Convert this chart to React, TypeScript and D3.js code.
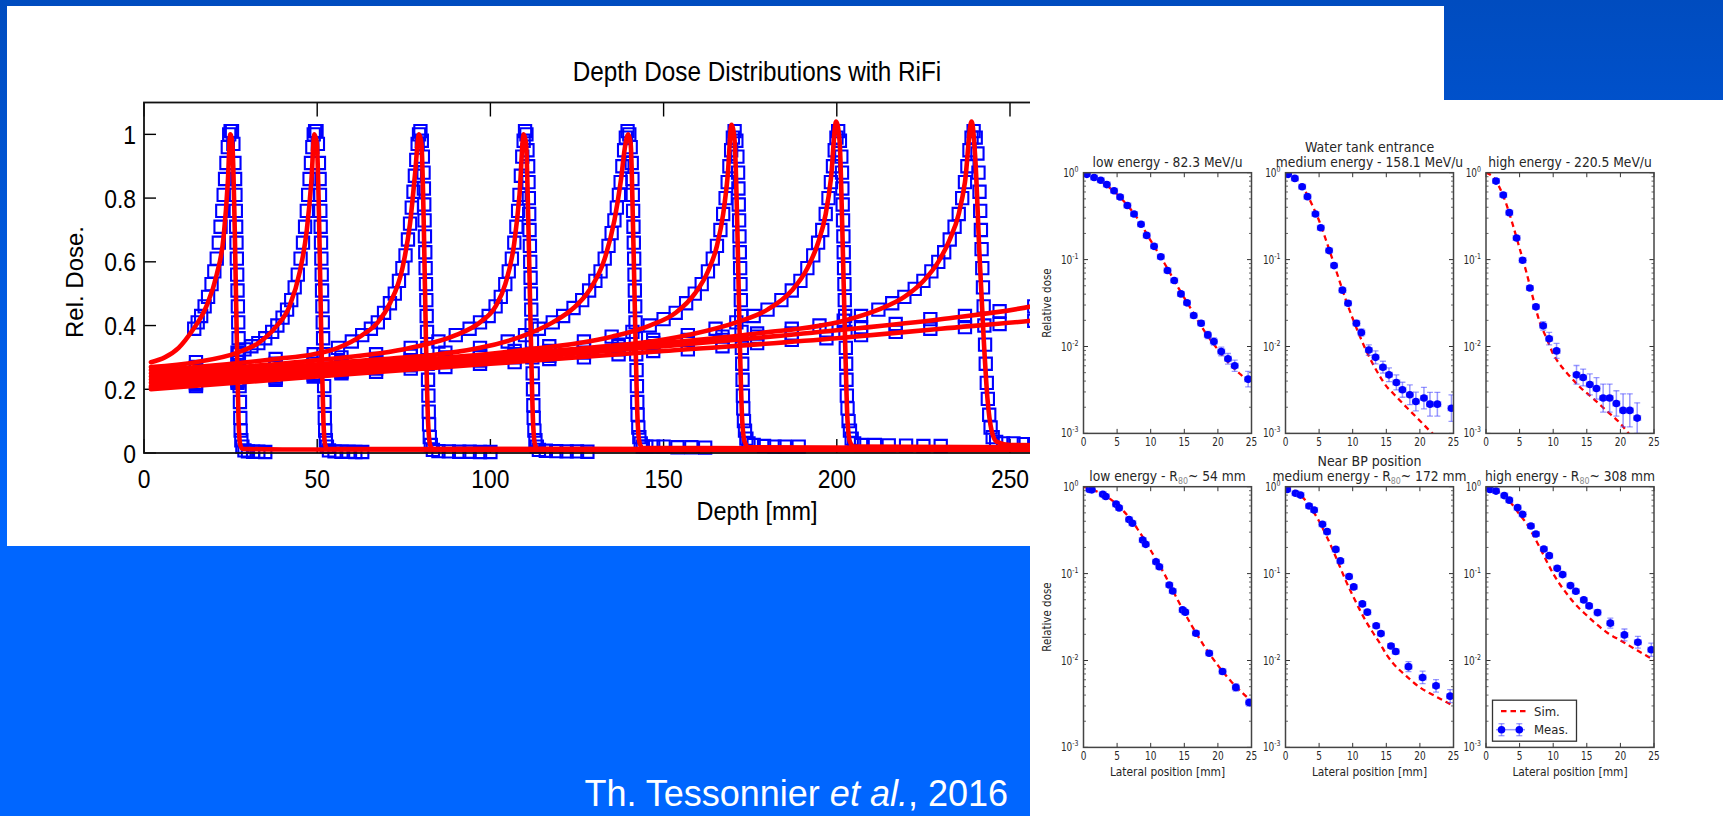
import React from "react";
import * as d3 from "d3";

type P = [number, number];
type M = [number, number, number];

const W = 1723;
const H = 816;

// ================= Left chart: depth dose distributions =================
const DEPTH_TICKS = [0, 50, 100, 150, 200, 250, 300];
const DOSE_TICKS = [0, 0.2, 0.4, 0.6, 0.8, 1];
const DOSE_TICK_LABELS = ["0", "0.2", "0.4", "0.6", "0.8", "1"];

const MEAS_E1: P[] = [[14.5,0.39],[15.5,0.41],[16.5,0.43],[17.5,0.46],[18.5,0.49],[19.5,0.53],[20.3,0.57],[21,0.61],[21.6,0.66],[22.1,0.71],[22.6,0.76],[23,0.81],[23.4,0.86],[23.8,0.91],[24.2,0.96],[24.6,1.0],[25,1.01],[25.4,1.01],[25.8,0.97],[26.1,0.91],[26.3,0.86],[26.4,0.81],[26.5,0.76],[26.6,0.71],[26.7,0.66],[26.8,0.61],[26.9,0.56],[27,0.51],[27.1,0.46],[27.2,0.41],[27.3,0.36],[27.4,0.31],[27.5,0.26],[27.6,0.21],[27.7,0.16],[27.8,0.11],[27.9,0.07],[28.1,0.04],[28.4,0.02],[29,0.008],[30,0.005],[31.5,0.004],[33,0.004],[35,0.003]];
const MEAS_E2: P[] = [[15,0.285],[27,0.315],[29,0.325],[31,0.335],[33,0.345],[35,0.36],[37,0.38],[38.5,0.4],[40,0.425],[41.3,0.45],[42.5,0.48],[43.5,0.52],[44.4,0.56],[45.2,0.61],[45.9,0.66],[46.5,0.71],[47,0.76],[47.4,0.81],[47.8,0.86],[48.2,0.91],[48.6,0.96],[49,1.0],[49.4,1.01],[49.8,1.01],[50.2,0.97],[50.5,0.91],[50.7,0.86],[50.8,0.81],[50.9,0.76],[51,0.71],[51.1,0.66],[51.2,0.61],[51.3,0.56],[51.4,0.51],[51.5,0.46],[51.6,0.41],[51.7,0.36],[51.8,0.31],[51.9,0.26],[52,0.21],[52.1,0.16],[52.2,0.11],[52.3,0.07],[52.5,0.04],[52.8,0.02],[53.4,0.008],[55,0.005],[57,0.004],[59,0.004],[61,0.003],[63,0.003]];
const MEAS_E3: P[] = [[15,0.27],[27,0.285],[38,0.295],[49,0.31],[56,0.33],[60,0.35],[63,0.37],[65.5,0.39],[67.5,0.41],[69.3,0.44],[71,0.47],[72.4,0.5],[73.6,0.54],[74.6,0.58],[75.5,0.62],[76.2,0.67],[76.8,0.72],[77.3,0.77],[77.8,0.82],[78.2,0.87],[78.6,0.92],[79,0.97],[79.4,1.0],[79.8,1.01],[80.2,0.98],[80.5,0.93],[80.7,0.88],[80.8,0.83],[80.9,0.78],[81,0.73],[81.1,0.68],[81.2,0.63],[81.3,0.58],[81.4,0.53],[81.5,0.48],[81.6,0.43],[81.7,0.38],[81.8,0.33],[81.9,0.28],[82,0.23],[82.1,0.18],[82.2,0.13],[82.3,0.09],[82.5,0.05],[82.8,0.025],[83.4,0.01],[85,0.006],[88,0.005],[91,0.004],[94,0.004],[97,0.003],[100,0.003]];
const MEAS_E4: P[] = [[15,0.26],[27,0.27],[38,0.28],[49,0.29],[57,0.3],[67,0.31],[77,0.33],[85,0.35],[90,0.37],[94,0.39],[97,0.41],[99.5,0.43],[101.5,0.46],[103,0.49],[104.3,0.53],[105.3,0.57],[106.2,0.61],[106.9,0.66],[107.5,0.71],[108,0.76],[108.4,0.81],[108.8,0.87],[109.2,0.93],[109.6,0.98],[110,1.01],[110.4,1.0],[110.7,0.95],[110.9,0.9],[111,0.85],[111.1,0.8],[111.2,0.75],[111.3,0.7],[111.4,0.65],[111.5,0.6],[111.6,0.55],[111.7,0.5],[111.8,0.45],[111.9,0.4],[112,0.35],[112.1,0.3],[112.2,0.25],[112.3,0.2],[112.4,0.15],[112.5,0.11],[112.7,0.07],[113,0.04],[113.4,0.02],[114,0.01],[116,0.007],[119,0.006],[122,0.005],[125,0.005],[128,0.004]];
const MEAS_E5: P[] = [[15,0.25],[27,0.26],[38,0.27],[49,0.28],[57,0.285],[67,0.295],[77,0.305],[87,0.315],[97,0.33],[105,0.35],[110,0.37],[114,0.39],[118,0.41],[121,0.43],[124,0.455],[126.5,0.48],[128.5,0.51],[130.3,0.54],[131.8,0.57],[133,0.61],[134.1,0.65],[135,0.69],[135.8,0.73],[136.5,0.77],[137.1,0.81],[137.6,0.85],[138.1,0.9],[138.6,0.95],[139.1,0.99],[139.6,1.01],[140.1,1.0],[140.5,0.96],[140.8,0.91],[141,0.86],[141.1,0.81],[141.2,0.76],[141.3,0.71],[141.4,0.66],[141.5,0.61],[141.6,0.56],[141.7,0.51],[141.8,0.46],[141.9,0.41],[142,0.36],[142.1,0.31],[142.2,0.26],[142.3,0.21],[142.4,0.16],[142.5,0.12],[142.7,0.08],[143,0.05],[143.4,0.03],[144,0.02],[145,0.02],[147,0.02],[150,0.02],[154,0.018],[158,0.018],[162,0.017]];
const MEAS_E6: P[] = [[15,0.24],[27,0.25],[38,0.26],[49,0.27],[57,0.275],[67,0.285],[77,0.29],[87,0.3],[97,0.31],[107,0.32],[117,0.335],[127,0.35],[135,0.365],[141,0.38],[146,0.4],[150,0.42],[153.5,0.44],[156.5,0.47],[159,0.5],[161,0.53],[162.8,0.57],[164.2,0.61],[165.4,0.65],[166.4,0.7],[167.2,0.75],[167.9,0.8],[168.5,0.85],[169,0.9],[169.5,0.95],[170,0.99],[170.5,1.01],[171,0.98],[171.3,0.93],[171.5,0.88],[171.6,0.83],[171.7,0.78],[171.8,0.73],[171.9,0.68],[172,0.63],[172.1,0.58],[172.2,0.53],[172.3,0.48],[172.4,0.43],[172.5,0.38],[172.6,0.33],[172.7,0.28],[172.8,0.23],[172.9,0.18],[173,0.14],[173.2,0.1],[173.5,0.07],[173.9,0.045],[174.5,0.03],[176,0.025],[179,0.022],[182,0.02],[185,0.02],[189,0.02]];
const MEAS_E7: P[] = [[15,0.23],[27,0.24],[38,0.25],[49,0.26],[57,0.27],[67,0.28],[77,0.285],[87,0.295],[97,0.305],[107,0.31],[117,0.32],[127,0.33],[137,0.34],[147,0.355],[157,0.37],[165,0.39],[171,0.41],[176,0.43],[180,0.45],[184,0.48],[187,0.51],[189.5,0.54],[191.5,0.58],[193.2,0.62],[194.6,0.66],[195.8,0.7],[196.8,0.75],[197.6,0.8],[198.3,0.85],[198.9,0.9],[199.4,0.95],[199.9,0.99],[200.4,1.01],[200.9,0.98],[201.3,0.93],[201.5,0.88],[201.6,0.83],[201.7,0.78],[201.8,0.73],[201.9,0.68],[202,0.63],[202.1,0.58],[202.2,0.53],[202.3,0.48],[202.4,0.43],[202.5,0.38],[202.6,0.33],[202.7,0.28],[202.8,0.23],[202.9,0.18],[203.1,0.14],[203.4,0.1],[203.8,0.07],[204.3,0.045],[205,0.03],[207,0.025],[211,0.025],[215,0.024],[220,0.023],[225,0.022],[230,0.022]];
const MEAS_E8: P[] = [[15,0.22],[27,0.23],[38,0.24],[49,0.25],[57,0.26],[67,0.27],[77,0.28],[87,0.29],[97,0.3],[107,0.305],[117,0.315],[127,0.325],[137,0.335],[147,0.345],[157,0.355],[167,0.365],[177,0.375],[187,0.39],[195,0.4],[202,0.415],[207,0.43],[212,0.45],[216,0.47],[219.5,0.49],[222.5,0.515],[225,0.54],[227.3,0.57],[229.3,0.6],[231,0.63],[232.6,0.67],[234,0.71],[235.2,0.75],[236.2,0.8],[237,0.85],[237.7,0.9],[238.3,0.95],[238.9,0.99],[239.5,1.01],[240.1,0.99],[240.6,0.94],[240.9,0.88],[241.2,0.82],[241.4,0.76],[241.6,0.7],[241.8,0.64],[242,0.58],[242.2,0.52],[242.4,0.46],[242.6,0.4],[242.8,0.34],[243,0.28],[243.3,0.22],[243.6,0.17],[244,0.12],[244.4,0.08],[245,0.05],[246,0.035],[248,0.03],[251,0.03],[254,0.028],[257,0.028]];
const MEAS_E9: P[] = [[15,0.215],[27,0.225],[38,0.235],[49,0.245],[57,0.255],[67,0.265],[77,0.275],[87,0.285],[97,0.29],[107,0.3],[117,0.305],[127,0.315],[137,0.325],[147,0.335],[157,0.345],[167,0.355],[177,0.365],[187,0.375],[197,0.385],[207,0.395],[217,0.405],[227,0.42],[237,0.43],[247,0.445],[257,0.46]];
const MEAS_E10: P[] = [[15,0.21],[27,0.22],[38,0.23],[49,0.24],[57,0.25],[67,0.255],[77,0.265],[87,0.27],[97,0.28],[107,0.285],[117,0.295],[127,0.3],[137,0.31],[147,0.32],[157,0.325],[167,0.335],[177,0.345],[187,0.355],[197,0.36],[207,0.37],[217,0.38],[227,0.39],[237,0.395],[247,0.405],[257,0.415]];

const SIM_E1: P[] = [[2,0.285],[6,0.3],[10,0.33],[14,0.385],[18,0.46],[21,0.56],[23,0.68],[24.2,0.85],[24.9,1.0],[25.5,0.97],[26.2,0.7],[26.8,0.35],[27.3,0.1],[27.8,0.025],[28.5,0.013],[40,0.011],[300,0.009]];
const SIM_E2: P[] = [[2,0.27],[15,0.285],[27,0.315],[33,0.345],[38,0.395],[42,0.46],[45,0.57],[47,0.7],[48.3,0.85],[49.2,1.0],[49.9,0.97],[50.6,0.7],[51.2,0.35],[51.8,0.1],[52.3,0.025],[53,0.013],[300,0.01]];
const SIM_E3: P[] = [[2,0.26],[15,0.27],[38,0.295],[49,0.31],[56,0.33],[63,0.37],[67.5,0.41],[71,0.47],[74.6,0.58],[76.8,0.72],[78.2,0.87],[79.4,1.0],[80.1,0.97],[80.8,0.7],[81.4,0.35],[82,0.1],[82.6,0.025],[83.3,0.013],[300,0.01]];
const SIM_E4: P[] = [[2,0.25],[15,0.26],[49,0.29],[77,0.33],[90,0.37],[97,0.41],[101.5,0.46],[104.3,0.53],[106.9,0.66],[108.4,0.81],[109.6,1.0],[110.3,0.97],[111,0.7],[111.7,0.35],[112.3,0.1],[112.9,0.025],[113.6,0.013],[300,0.01]];
const SIM_E5: P[] = [[2,0.24],[15,0.25],[57,0.285],[97,0.33],[110,0.37],[118,0.41],[124,0.455],[128.5,0.51],[133,0.61],[135.8,0.73],[137.6,0.85],[139,0.97],[139.8,1.0],[140.5,0.97],[141.2,0.7],[141.9,0.35],[142.5,0.1],[143.1,0.03],[144,0.016],[300,0.012]];
const SIM_E6: P[] = [[2,0.23],[15,0.24],[57,0.275],[107,0.32],[135,0.365],[146,0.4],[153.5,0.44],[159,0.5],[162.8,0.57],[165.4,0.65],[167.2,0.75],[168.5,0.87],[169.6,1.03],[170.5,0.98],[171.3,0.7],[172,0.35],[172.7,0.1],[173.4,0.035],[174.5,0.018],[300,0.014]];
const SIM_E7: P[] = [[2,0.22],[15,0.23],[67,0.28],[117,0.32],[157,0.37],[171,0.41],[180,0.45],[187,0.51],[191.5,0.58],[194.6,0.66],[196.8,0.75],[198.3,0.86],[199.8,1.04],[200.8,0.98],[201.6,0.7],[202.4,0.35],[203.1,0.1],[203.8,0.035],[205,0.02],[300,0.016]];
const SIM_E8: P[] = [[2,0.21],[15,0.22],[67,0.27],[127,0.325],[177,0.375],[202,0.415],[212,0.45],[219.5,0.49],[225,0.54],[229.3,0.6],[232.6,0.67],[235.2,0.75],[237,0.85],[238.9,1.04],[240,0.92],[241.2,0.62],[242.4,0.36],[243.5,0.17],[244.7,0.07],[246.2,0.035],[250,0.025],[300,0.02]];
const SIM_E9: P[] = [[2,0.205],[50,0.245],[100,0.29],[150,0.335],[200,0.385],[230,0.42],[256,0.46],[280,0.53]];
const SIM_E10: P[] = [[2,0.2],[50,0.24],[100,0.28],[150,0.32],[200,0.36],[230,0.39],[256,0.415],[290,0.46]];

const MEAS_SETS = [MEAS_E1, MEAS_E2, MEAS_E3, MEAS_E4, MEAS_E5, MEAS_E6, MEAS_E7, MEAS_E8, MEAS_E9, MEAS_E10];
const SIM_SETS = [SIM_E1, SIM_E2, SIM_E3, SIM_E4, SIM_E5, SIM_E6, SIM_E7, SIM_E8, SIM_E9, SIM_E10];

// ================= Right panels: lateral profiles =================
const LAT_TICKS = [0, 5, 10, 15, 20, 25];
const LOG_TICKS = [1, 0.1, 0.01, 0.001];
const LOG_EXPONENTS = ["0", "-1", "-2", "-3"];

// [lateral position mm, relative dose, error factor]
const ENT_LOW_MEAS: M[] = [[0.5,0.957,1.03],[1.58,0.88,1.03],[2.57,0.82,1.03],[3.47,0.73,1.03],[4.55,0.62,1.03],[5.45,0.525,1.03],[6.53,0.42,1.03],[7.52,0.335,1.03],[8.56,0.255,1.03],[9.4,0.19,1.03],[10.5,0.142,1.04],[11.5,0.108,1.04],[12.5,0.0748,1.04],[13.5,0.0574,1.04],[14.5,0.0403,1.05],[15.4,0.0318,1.05],[16.4,0.0227,1.06],[17.5,0.0185,1.07],[18.5,0.0136,1.1],[19.4,0.0114,1.1],[20.5,0.00877,1.12],[21.5,0.00722,1.15],[22.5,0.006,1.16],[24.5,0.00421,1.23]];
const ENT_LOW_SIM: P[] = [[0,1],[2,0.86],[4,0.66],[6,0.47],[8,0.3],[10,0.165],[12,0.092],[14,0.049],[16,0.027],[18,0.015],[20,0.0092],[22,0.006],[24,0.0043],[25,0.0036]];
const ENT_MED_MEAS: M[] = [[0.4,0.957,1.03],[1.39,0.86,1.03],[2.48,0.69,1.03],[3.27,0.53,1.03],[4.46,0.335,1.03],[5.25,0.233,1.03],[6.49,0.127,1.04],[7.23,0.0853,1.04],[8.47,0.0445,1.05],[9.31,0.0315,1.05],[10.55,0.0185,1.08],[11.29,0.0145,1.1],[12.4,0.0091,1.15],[13.4,0.0075,1.19],[14.5,0.00578,1.17],[15.4,0.00472,1.2],[16.5,0.00386,1.22],[17.4,0.00318,1.22],[18.5,0.00278,1.3],[19.4,0.00233,1.28],[20.6,0.00255,1.33],[21.5,0.00217,1.37],[22.6,0.00217,1.37],[24.7,0.00195,1.42]];
const ENT_MED_SIM: P[] = [[0,1],[1,0.92],[2,0.78],[3,0.6],[4,0.42],[5,0.28],[6,0.17],[7,0.1],[8,0.058],[9,0.034],[10,0.021],[11,0.0135],[12,0.009],[13,0.0063],[14,0.0046],[15,0.0035],[16,0.0029],[18,0.002],[20,0.0014],[22,0.00098],[23,0.00085]];
const ENT_HIGH_MEAS: M[] = [[1.49,0.8,1.03],[2.57,0.553,1.03],[3.47,0.347,1.03],[4.55,0.177,1.03],[5.45,0.0983,1.04],[6.53,0.0472,1.05],[7.43,0.0286,1.06],[8.51,0.0173,1.12],[9.4,0.0123,1.18],[10.5,0.0089,1.22],[13.47,0.00472,1.28],[14.46,0.0044,1.25],[15.45,0.00366,1.32],[16.44,0.00329,1.33],[17.43,0.00255,1.45],[18.4,0.00255,1.45],[19.4,0.00221,1.4],[20.4,0.00184,1.55],[21.4,0.00184,1.55],[22.5,0.0015,1.5]];
const ENT_HIGH_SIM: P[] = [[0,1],[1,0.9],[2,0.68],[3,0.44],[4,0.25],[5,0.135],[6,0.072],[7,0.036],[8,0.019],[9,0.0125],[10,0.0082],[11,0.0062],[12,0.005],[14,0.0034],[16,0.0025],[18,0.0018],[20,0.0013],[21,0.00105],[22,0.00085]];
const BP_LOW_MEAS: M[] = [[0.89,0.93,1.03],[1.24,0.92,1.03],[2.87,0.82,1.03],[3.32,0.77,1.03],[4.85,0.63,1.03],[5.3,0.57,1.03],[6.78,0.42,1.03],[7.28,0.38,1.03],[8.81,0.244,1.03],[9.26,0.217,1.03],[10.79,0.137,1.04],[11.29,0.12,1.04],[12.77,0.074,1.04],[13.27,0.063,1.04],[14.75,0.0382,1.05],[15.15,0.036,1.05],[16.73,0.0206,1.05],[18.71,0.0121,1.06],[20.69,0.00748,1.07],[22.67,0.0049,1.1],[24.65,0.00329,1.1]];
const BP_LOW_SIM: P[] = [[0,1],[2,0.88],[4,0.72],[6,0.52],[8,0.33],[10,0.185],[12,0.1],[14,0.05],[16,0.026],[18,0.0145],[20,0.0088],[22,0.0057],[24,0.004],[25,0.0034]];
const BP_MED_MEAS: M[] = [[0.25,0.93,1.03],[1.49,0.84,1.03],[2.23,0.8,1.03],[3.51,0.6,1.03],[4.26,0.54,1.03],[5.5,0.37,1.03],[6.19,0.304,1.03],[7.48,0.19,1.03],[8.17,0.14,1.03],[9.46,0.0925,1.04],[10.15,0.0703,1.04],[11.44,0.0448,1.04],[12.18,0.036,1.04],[13.5,0.0251,1.05],[14.2,0.0204,1.05],[15.7,0.0147,1.06],[16.4,0.0127,1.07],[18.3,0.0085,1.14],[20.4,0.00638,1.18],[22.4,0.00511,1.18],[24.5,0.00389,1.19]];
const BP_MED_SIM: P[] = [[0,1],[1,0.93],[2,0.83],[3,0.69],[4,0.54],[5,0.4],[6,0.28],[7,0.19],[8,0.125],[9,0.082],[10,0.056],[11,0.039],[12,0.028],[13,0.021],[14,0.016],[15,0.0118],[16,0.0093],[18,0.0066],[20,0.0049],[22,0.004],[24,0.0033],[25,0.003]];
const BP_HIGH_MEAS: M[] = [[0.59,0.93,1.03],[1.49,0.89,1.03],[2.72,0.79,1.03],[3.47,0.7,1.03],[4.7,0.574,1.03],[5.45,0.481,1.03],[6.68,0.353,1.03],[7.43,0.286,1.03],[8.61,0.192,1.03],[9.41,0.161,1.03],[10.6,0.115,1.03],[11.4,0.0974,1.03],[12.57,0.0728,1.04],[13.37,0.0627,1.04],[14.55,0.0498,1.05],[15.35,0.0425,1.06],[16.6,0.0356,1.08],[18.5,0.0269,1.14],[20.6,0.0197,1.17],[22.6,0.0162,1.17],[24.6,0.0133,1.19]];
const BP_HIGH_SIM: P[] = [[0,1],[1,0.95],[2,0.86],[3,0.74],[4,0.61],[5,0.48],[6,0.38],[7,0.28],[8,0.2],[9,0.14],[10,0.1],[11,0.075],[12,0.059],[13,0.047],[14,0.039],[15,0.033],[16,0.028],[18,0.021],[20,0.017],[22,0.0138],[24,0.0112],[25,0.0102]];

const ENT_TITLES = ["low energy - 82.3 MeV/u", "medium energy - 158.1 MeV/u", "high energy - 220.5 MeV/u"];
const BP_TITLE_PREFIX = ["low energy - R", "medium energy - R", "high energy - R"];
const BP_TITLE_SUFFIX = ["~ 54 mm", "~ 172 mm", "~ 308 mm"];
const ROW_HEADINGS = ["Water tank entrance", "Near BP position"];

const LEFT_FONT = "'Liberation Sans', Arial, Helvetica, sans-serif";
const RIGHT_FONT = "'DejaVu Sans', Verdana, sans-serif";

function Txt(props: {
  x: number; y: number; sx?: number; rot?: number; anchor?: string; size: number;
  family: string; fill?: string; children: React.ReactNode;
}) {
  const { x, y, sx = 1, rot = 0, anchor = "middle", size, family, fill = "#000", children } = props;
  return (
    <g transform={`translate(${x},${y}) rotate(${rot}) scale(${sx},1)`}>
      <text textAnchor={anchor as any} fontSize={size} fontFamily={family} fill={fill}>
        {children}
      </text>
    </g>
  );
}

function LeftChart() {
  const x = d3.scaleLinear().domain([0, 300]).range([144, 1183.2]);
  const y = d3.scaleLinear().domain([0, 1.1]).range([453, 102.5]);
  const line = d3.line<P>().x((d) => x(d[0])).y((d) => y(d[1])).curve(d3.curveMonotoneX);
  const sq = d3.symbol().type(d3.symbolSquare).size(150)() || "";
  const x0 = x(0), x1 = x(300), yT = y(1.1), yB = y(0);
  return (
    <g>
      <Txt x={757} y={81} sx={0.9} size={27} family={LEFT_FONT}>Depth Dose Distributions with RiFi</Txt>
      {DOSE_TICKS.map((t, i) => (
        <g key={"yt" + i}>
          <line x1={x0} x2={x0 + 12} y1={y(t)} y2={y(t)} stroke="#000" strokeWidth={1.4} />
          <Txt x={x0 - 8} y={y(t) + 9.5} anchor="end" sx={0.88} size={26} family={LEFT_FONT}>{DOSE_TICK_LABELS[i]}</Txt>
        </g>
      ))}
      {DEPTH_TICKS.map((t, i) => (
        <g key={"xt" + i}>
          <line x1={x(t)} x2={x(t)} y1={yT} y2={yT + 14} stroke="#000" strokeWidth={1.4} />
          <line x1={x(t)} x2={x(t)} y1={yB} y2={yB - 14} stroke="#000" strokeWidth={1.4} />
          <Txt x={x(t)} y={488} sx={0.88} size={26} family={LEFT_FONT}>{String(t)}</Txt>
        </g>
      ))}
      <Txt x={757} y={520} sx={0.9} size={26} family={LEFT_FONT}>Depth [mm]</Txt>
      <Txt x={83} y={282} rot={-90} size={24} family={LEFT_FONT}>Rel. Dose.</Txt>
      {MEAS_SETS.map((set, si) =>
        set.map((d, i) => (
          <path key={`m${si}-${i}`} d={sq} transform={`translate(${x(d[0])},${y(d[1])})`}
            fill="none" stroke="#0000ff" strokeWidth={2.1} />
        ))
      )}
      {SIM_SETS.map((set, si) => (
        <path key={"s" + si} d={line(set) || ""} fill="none" stroke="#ff0000" strokeWidth={4.6}
          strokeLinejoin="round" strokeLinecap="round" />
      ))}
      <rect x={x0} y={yT} width={x1 - x0} height={yB - yT} fill="none" stroke="#111" strokeWidth={1.8} />
    </g>
  );
}

const PANEL_LEFTS = [1083.5, 1285.5, 1486];
const ROW_TOPS = [172.7, 486.7];
const PW = 168;
const PH = 260.7;

function Panel(props: { left: number; top: number; meas: M[]; sim: P[]; yLabel: boolean; xLabel: boolean; legend: boolean; id: string }) {
  const { left, top, meas, sim, yLabel, xLabel, legend, id } = props;
  const x = d3.scaleLinear().domain([0, 25]).range([left, left + PW]);
  const y = d3.scaleLog().domain([1e-3, 1]).range([top + PH, top]);
  const line = d3.line<P>().x((d) => x(d[0])).y((d) => y(d[1])).curve(d3.curveMonotoneX);
  const minor = y.ticks().filter((t) => !LOG_TICKS.some((m) => Math.abs(m - t) / m < 1e-6));
  const ebColor = "rgba(70,70,255,0.55)";
  const clampY = (v: number) => y(Math.max(1e-3, Math.min(1, v)));
  const fg = "#262626";
  return (
    <g>
      <defs>
        <clipPath id={id}>
          <rect x={left} y={top} width={PW} height={PH} />
        </clipPath>
      </defs>
      <rect x={left} y={top} width={PW} height={PH} fill="#fff" />
      {LAT_TICKS.map((t) => (
        <g key={"xt" + t}>
          <line x1={x(t)} x2={x(t)} y1={top + PH} y2={top + PH - 4.5} stroke="#333" strokeWidth={1} />
          <line x1={x(t)} x2={x(t)} y1={top} y2={top + 4.5} stroke="#333" strokeWidth={1} />
          <Txt x={x(t)} y={top + PH + 12.5} sx={0.78} size={11.5} family={RIGHT_FONT} fill={fg}>{String(t)}</Txt>
        </g>
      ))}
      {LOG_TICKS.map((t, i) => (
        <g key={"yt" + t}>
          <line x1={left} x2={left + 4.5} y1={y(t)} y2={y(t)} stroke="#333" strokeWidth={1} />
          <line x1={left + PW} x2={left + PW - 4.5} y1={y(t)} y2={y(t)} stroke="#333" strokeWidth={1} />
          <g transform={`translate(${left - 5},${y(t) + 4}) scale(0.78,1)`}>
            <text textAnchor="end" fontSize={11.5} fontFamily={RIGHT_FONT} fill={fg}>
              10<tspan fontSize={8} dy={-5}>{LOG_EXPONENTS[i]}</tspan>
            </text>
          </g>
        </g>
      ))}
      {minor.map((t, i) => (
        <g key={"mt" + i}>
          <line x1={left} x2={left + 2.5} y1={y(t)} y2={y(t)} stroke="#555" strokeWidth={0.9} />
          <line x1={left + PW} x2={left + PW - 2.5} y1={y(t)} y2={y(t)} stroke="#555" strokeWidth={0.9} />
        </g>
      ))}
      <g clipPath={`url(#${id})`}>
        <path d={line(sim) || ""} fill="none" stroke="#ff0000" strokeWidth={2.3} strokeDasharray="5.5,4" />
        {meas.map((d, i) => {
          const cx = x(d[0]), cy = y(d[1]);
          const yHi = clampY(d[1] * d[2]), yLo = clampY(d[1] / d[2]);
          const xl = x(d[0] - 0.5), xr = x(d[0] + 0.5);
          return (
            <g key={"e" + i}>
              <line x1={cx} x2={cx} y1={yHi} y2={yLo} stroke={ebColor} strokeWidth={1.5} />
              <line x1={cx - 3} x2={cx + 3} y1={yHi} y2={yHi} stroke={ebColor} strokeWidth={1.3} />
              <line x1={cx - 3} x2={cx + 3} y1={yLo} y2={yLo} stroke={ebColor} strokeWidth={1.3} />
              <line x1={xl} x2={xr} y1={cy} y2={cy} stroke={ebColor} strokeWidth={1.5} />
              <line x1={xl} x2={xl} y1={cy - 3} y2={cy + 3} stroke={ebColor} strokeWidth={1.3} />
              <line x1={xr} x2={xr} y1={cy - 3} y2={cy + 3} stroke={ebColor} strokeWidth={1.3} />
              <circle cx={cx} cy={cy} r={3.8} fill="#0000ff" />
            </g>
          );
        })}
      </g>
      <rect x={left} y={top} width={PW} height={PH} fill="none" stroke="#444" strokeWidth={1.5} />
      {yLabel && (
        <Txt x={left - 33} y={top + PH / 2} rot={-90} sx={0.86} size={12} family={RIGHT_FONT} fill={fg}>Relative dose</Txt>
      )}
      {xLabel && (
        <Txt x={x(12.5)} y={top + PH + 29} sx={0.89} size={12} family={RIGHT_FONT} fill={fg}>Lateral position [mm]</Txt>
      )}
      {legend && (
        <g>
          <rect x={left + 6.5} y={top + 213.5} width={84} height={41} fill="#fff" stroke="#333" strokeWidth={1.3} />
          <line x1={left + 15} x2={left + 40} y1={top + 224.5} y2={top + 224.5} stroke="#ff0000" strokeWidth={2.3} strokeDasharray="5.5,4" />
          <Txt x={left + 48} y={top + 229} anchor="start" sx={0.9} size={13} family={RIGHT_FONT} fill={fg}>Sim.</Txt>
          <line x1={left + 10} x2={left + 39} y1={top + 243} y2={top + 243} stroke={ebColor} strokeWidth={1.5} />
          {[left + 15.5, left + 33.3].map((mx, i) => (
            <g key={"lg" + i}>
              <line x1={mx} x2={mx} y1={top + 237} y2={top + 249} stroke={ebColor} strokeWidth={1.5} />
              <line x1={mx - 3} x2={mx + 3} y1={top + 237} y2={top + 237} stroke={ebColor} strokeWidth={1.3} />
              <line x1={mx - 3} x2={mx + 3} y1={top + 249} y2={top + 249} stroke={ebColor} strokeWidth={1.3} />
              <circle cx={mx} cy={top + 243} r={3.8} fill="#0000ff" />
            </g>
          ))}
          <Txt x={left + 48} y={top + 247.5} anchor="start" sx={0.9} size={13} family={RIGHT_FONT} fill={fg}>Meas.</Txt>
        </g>
      )}
    </g>
  );
}

const PANEL_DATA: [M[], P[]][][] = [
  [[ENT_LOW_MEAS, ENT_LOW_SIM], [ENT_MED_MEAS, ENT_MED_SIM], [ENT_HIGH_MEAS, ENT_HIGH_SIM]],
  [[BP_LOW_MEAS, BP_LOW_SIM], [BP_MED_MEAS, BP_MED_SIM], [BP_HIGH_MEAS, BP_HIGH_SIM]],
];

function RightPanels() {
  const fg = "#262626";
  return (
    <g>
      {ROW_TOPS.map((top, r) => (
        <g key={"row" + r}>
          <Txt x={PANEL_LEFTS[1] + PW / 2} y={top - 20.5} sx={0.9} size={14} family={RIGHT_FONT} fill={fg}>{ROW_HEADINGS[r]}</Txt>
          {PANEL_LEFTS.map((left, c) => (
            <g key={"p" + c}>
              {r === 0 ? (
                <Txt x={left + PW / 2} y={top - 6} sx={0.88} size={14} family={RIGHT_FONT} fill={fg}>{ENT_TITLES[c]}</Txt>
              ) : (
                <g transform={`translate(${left + PW / 2},${top - 6}) scale(0.88,1)`}>
                  <text textAnchor="middle" fontSize={14} fontFamily={RIGHT_FONT} fill={fg}>
                    {BP_TITLE_PREFIX[c]}
                    <tspan fontSize={9} dy={3} fill="#8a8a8a">80</tspan>
                    <tspan dy={-3}>{BP_TITLE_SUFFIX[c]}</tspan>
                  </text>
                </g>
              )}
              <Panel left={left} top={top} meas={PANEL_DATA[r][c][0]} sim={PANEL_DATA[r][c][1]}
                yLabel={c === 0} xLabel={r === 1} legend={r === 1 && c === 2} id={`clip-${r}-${c}`} />
            </g>
          ))}
        </g>
      ))}
    </g>
  );
}

export default function App() {
  return (
    <svg width={W} height={H} viewBox={`0 0 ${W} ${H}`}
      style={{ position: "absolute", left: 0, top: 0, display: "block" }}>
      <defs>
        <linearGradient id="slidebg" x1="0" y1="0" x2="0" y2="1">
          <stop offset="0" stopColor="#004cbf" />
          <stop offset="0.45" stopColor="#005de9" />
          <stop offset="0.66" stopColor="#0066ff" />
          <stop offset="1" stopColor="#0066ff" />
        </linearGradient>
      </defs>
      <rect x={0} y={0} width={W} height={H} fill="url(#slidebg)" />
      <rect x={7} y={6} width={1437} height={540} fill="#fff" />
      <LeftChart />
      <rect x={1030} y={100} width={W - 1030} height={H - 100} fill="#fff" />
      <RightPanels />
      <g transform="translate(1008,806)">
        <text textAnchor="end" fontSize={36} fontFamily={LEFT_FONT} fill="#fff">
          Th. Tessonnier <tspan fontStyle="italic">et al.</tspan>, 2016
        </text>
      </g>
    </svg>
  );
}
